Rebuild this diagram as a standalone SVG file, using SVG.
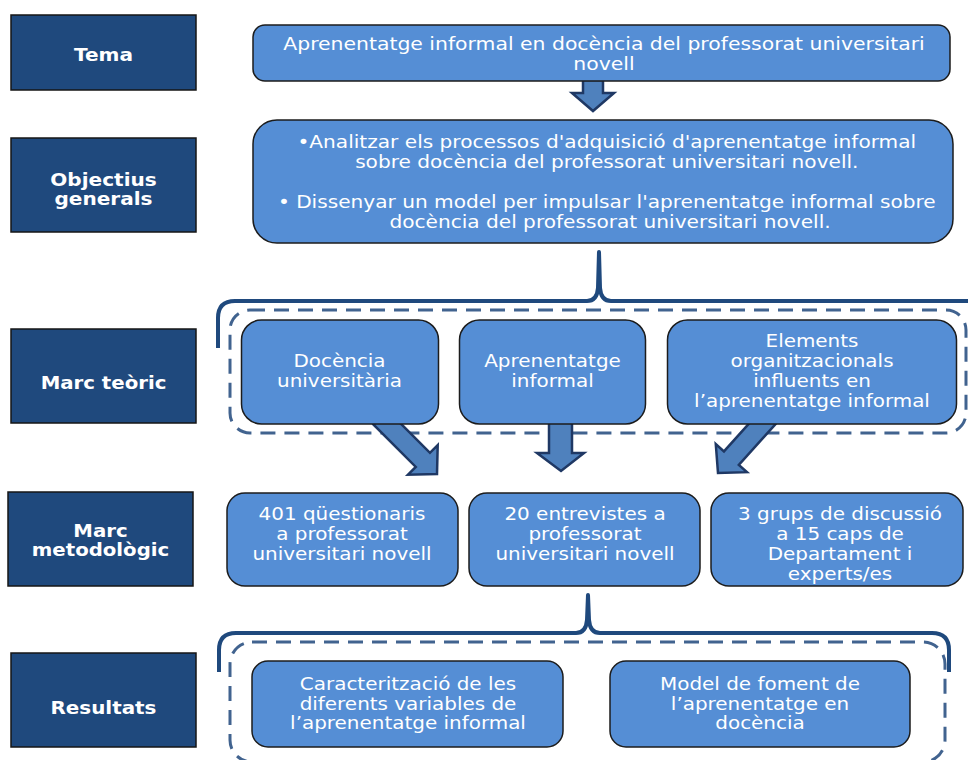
<svg xmlns="http://www.w3.org/2000/svg" width="968" height="760" viewBox="0 0 968 760">
  <style>
    .lbl { fill: #1F497D; stroke: #161616; stroke-width: 1.5; }
    .lbl-t { font-family: "DejaVu Sans", Verdana, sans-serif; font-weight: bold; font-size: 17px; fill: #ffffff; text-anchor: middle; }
    .box { fill: #558ED5; stroke: #1c1c1c; stroke-width: 1.5; }
    .txt { font-family: "DejaVu Sans", Verdana, sans-serif; font-size: 17.5px; fill: #ffffff; text-anchor: middle; }
    .arrow { fill: #4F81BD; stroke: #1F3864; stroke-width: 2.5; stroke-linejoin: miter; }
    .brace { fill: none; stroke: #1F497D; stroke-width: 4; stroke-linejoin: round; }
    .dash { fill: none; stroke: #41638F; stroke-width: 3; stroke-dasharray: 15 9; }
  </style>
  <defs>
    <!-- block arrow pointing down, tip at the origin -->
    <path id="blk" d="M-10,-80 L10,-80 L10,-20 L21,-20 L0,0 L-21,-20 L-10,-20 Z"/>
  </defs>

  <rect width="968" height="760" fill="#ffffff"/>

  <!-- row labels -->
  <g id="lbl-tema">
    <rect class="lbl" x="11" y="15" width="185" height="75"/>
    <g transform="translate(103.5,0) scale(1.18,1)"><text class="lbl-t" x="0" y="61">Tema</text></g>
  </g>
  <g id="lbl-objectius">
    <rect class="lbl" x="11" y="138" width="185" height="94"/>
    <g transform="translate(103.5,0) scale(1.18,1)">
      <text class="lbl-t"><tspan x="0" y="186">Objectius</tspan><tspan x="0" y="205">generals</tspan></text>
    </g>
  </g>
  <g id="lbl-teoric">
    <rect class="lbl" x="11" y="329" width="185" height="94"/>
    <g transform="translate(103.5,0) scale(1.16,1)"><text class="lbl-t" x="0" y="389">Marc teòric</text></g>
  </g>
  <g id="lbl-metodologic">
    <rect class="lbl" x="8" y="492" width="185" height="94"/>
    <g transform="translate(100.5,0) scale(1.16,1)">
      <text class="lbl-t"><tspan x="0" y="537">Marc</tspan><tspan x="0" y="556">metodològic</tspan></text>
    </g>
  </g>
  <g id="lbl-resultats">
    <rect class="lbl" x="11" y="653" width="185" height="94"/>
    <g transform="translate(103.5,0) scale(1.17,1)"><text class="lbl-t" x="0" y="714">Resultats</text></g>
  </g>

  <!-- connectors: braces, dashed groupings and block arrows -->
  <g id="connectors">
    <path class="brace" d="M218,348 L218,318 Q218,301 235,301 L587,301 Q597,301 598,288 L599,252 L600,288 Q601,301 611,301 L975,301"/>
    <rect class="dash" x="230" y="310" width="736" height="123" rx="20"/>
    <path class="brace" d="M219,672 L219,650 Q219,633 236,633 L576,633 Q586,633 587,620 L588,595 L589,620 Q590,633 600,633 L932,633 Q949,633 949,650 L949,672"/>
    <rect class="dash" x="230" y="642" width="715" height="120" rx="22"/>
    <path class="arrow" d="M583,80 L603,80 L603,93 L614,93 L593,111 L572,93 L583,93 Z"/>
    <use href="#blk" class="arrow" transform="translate(437,474) rotate(-45)"/>
    <path class="arrow" d="M549,420 L572,420 L572,453 L584,453 L561,471 L537,453 L549,453 Z"/>
    <use href="#blk" class="arrow" transform="translate(718,473) rotate(42)"/>
  </g>

  <!-- tema -->
  <g id="tema">
    <rect class="box" x="253" y="25" width="697" height="56" rx="12"/>
    <g transform="translate(604,0) scale(1.165,1)">
      <text class="txt"><tspan x="0" y="50">Aprenentatge informal en docència del professorat universitari</tspan><tspan x="0" y="70">novell</tspan></text>
    </g>
  </g>

  <!-- objectius generals -->
  <g id="objectius">
    <rect class="box" x="253" y="120" width="700" height="123" rx="24"/>
    <g transform="translate(610,0) scale(1.15,1)">
      <text class="txt">
        <tspan x="0" y="148">•Analitzar els processos d'adquisició d'aprenentatge informal</tspan>
        <tspan x="0" y="168">sobre docència del professorat universitari novell.</tspan>
        <tspan x="0" y="208">• Dissenyar un model per impulsar l'aprenentatge informal sobre</tspan>
        <tspan x="0" y="228">docència del professorat universitari novell.</tspan>
      </text>
    </g>
  </g>

  <!-- marc teòric -->
  <g id="teoric-docencia">
    <rect class="box" x="241.5" y="320" width="197" height="104" rx="20"/>
    <g transform="translate(339.5,0) scale(1.14,1)">
      <text class="txt"><tspan x="0" y="367">Docència</tspan><tspan x="0" y="387">universitària</tspan></text>
    </g>
  </g>
  <g id="teoric-aprenentatge">
    <rect class="box" x="459.5" y="320" width="186" height="104" rx="20"/>
    <g transform="translate(552.5,0) scale(1.14,1)">
      <text class="txt"><tspan x="0" y="367">Aprenentatge</tspan><tspan x="0" y="387">informal</tspan></text>
    </g>
  </g>
  <g id="teoric-elements">
    <rect class="box" x="667.5" y="320" width="289" height="104" rx="20"/>
    <g transform="translate(812,0) scale(1.14,1)">
      <text class="txt"><tspan x="0" y="347">Elements</tspan><tspan x="0" y="367">organitzacionals</tspan><tspan x="0" y="387">influents en</tspan><tspan x="0" y="407">l’aprenentatge informal</tspan></text>
    </g>
  </g>

  <!-- marc metodològic -->
  <g id="met-questionaris">
    <rect class="box" x="227" y="493" width="231" height="93" rx="18"/>
    <g transform="translate(342,0) scale(1.14,1)">
      <text class="txt"><tspan x="0" y="520">401 qüestionaris</tspan><tspan x="0" y="540">a professorat</tspan><tspan x="0" y="560">universitari novell</tspan></text>
    </g>
  </g>
  <g id="met-entrevistes">
    <rect class="box" x="469" y="493" width="231" height="93" rx="18"/>
    <g transform="translate(585,0) scale(1.14,1)">
      <text class="txt"><tspan x="0" y="520">20 entrevistes a</tspan><tspan x="0" y="540">professorat</tspan><tspan x="0" y="560">universitari novell</tspan></text>
    </g>
  </g>
  <g id="met-grups">
    <rect class="box" x="711" y="493" width="252" height="93" rx="18"/>
    <g transform="translate(840,0) scale(1.14,1)">
      <text class="txt"><tspan x="0" y="520">3 grups de discussió</tspan><tspan x="0" y="540">a 15 caps de</tspan><tspan x="0" y="560">Departament i</tspan><tspan x="0" y="580">experts/es</tspan></text>
    </g>
  </g>

  <!-- resultats -->
  <g id="res-caracteritzacio">
    <rect class="box" x="252" y="661" width="311" height="86" rx="16"/>
    <g transform="translate(408,0) scale(1.14,1)">
      <text class="txt"><tspan x="0" y="690">Caracterització de les</tspan><tspan x="0" y="710">diferents variables de</tspan><tspan x="0" y="729">l’aprenentatge informal</tspan></text>
    </g>
  </g>
  <g id="res-model">
    <rect class="box" x="610" y="661" width="300" height="86" rx="16"/>
    <g transform="translate(760,0) scale(1.14,1)">
      <text class="txt"><tspan x="0" y="690">Model de foment de</tspan><tspan x="0" y="710">l’aprenentatge en</tspan><tspan x="0" y="729">docència</tspan></text>
    </g>
  </g>
</svg>
